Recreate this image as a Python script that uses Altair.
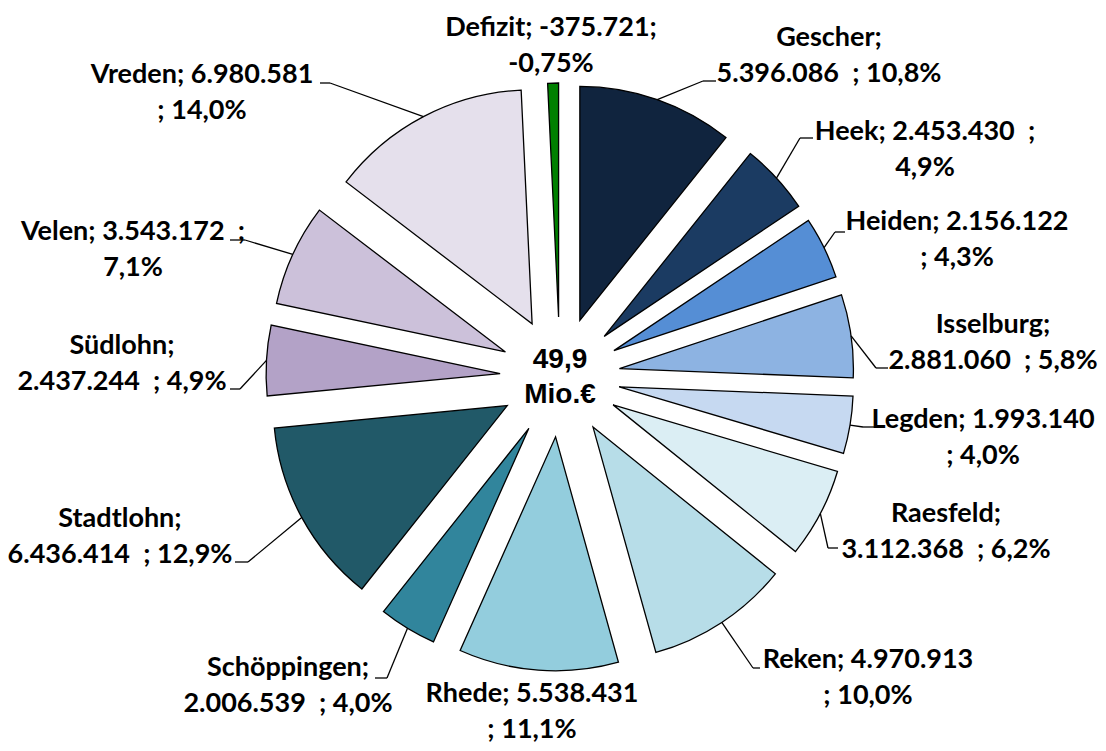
import altair as alt
import pandas as pd

# ---- data ----
names = ["Gescher", "Heek", "Heiden", "Isselburg", "Legden", "Raesfeld", "Reken",
         "Rhede", "Schöppingen", "Stadtlohn", "Südlohn", "Velen", "Vreden", "Defizit"]
values = [5396086, 2453430, 2156122, 2881060, 1993140, 3112368, 4970913,
          5538431, 2006539, 6436414, 2437244, 3543172, 6980581, -375721]
colors = ["#10243E", "#1B3B62", "#558ED5", "#8DB3E2", "#C6D9F1", "#DBEEF4", "#B7DDE8",
          "#93CDDD", "#31859C", "#215968", "#B3A2C7", "#CCC1DA", "#E5E0EC", "#008000"]
# how Excel wrapped each label: A "name;\nvalue ; pct", B "name; value ;\npct",
# C "name; value\n; pct", D "name; value;\npct"
wraps = ["A", "B", "C", "A", "C", "A", "C", "C", "A", "A", "A", "B", "C", "D"]

# ---- layout (pixels inside the chart, page minus 8px margin) ----
CX, CY = 552, 369        # pie centre
R, EXP = 234, 60         # slice radius, explosion distance
label_x = [821, 917, 949, 985, 975, 938, 860, 524, 280, 112, 114, 125, 194, 543]
label_y = [48, 142, 232, 335, 430, 524, 670, 704, 678, 529, 356, 242, 85, 38]
knee_x = [695, 792, 827, 868, 855, 820, 745, None, 379, 240, 232, 237, 322, None]
knee_y = [73, 130, 224, 360, 419, 540, 660, None, 670, 554, 381, 232, 75, None]
end_x = [708, 805, 837, 880, 867, 830, 752, None, 367, 227, 222, 222, 312, None]
LINE_GAP = 36

W, H = 1090, 735
NB = "\u00a0"  # keeps Excel's double space from collapsing


def de_int(v):
    return f"{v:,}".replace(",", ".")


pos_total = sum(v for v in values if v > 0)
line1, line2 = [], []
for n, v, w in zip(names, values, wraps):
    p = v / pos_total * 100
    ps = (f"{p:.2f}" if abs(p) < 1 else f"{p:.1f}").replace(".", ",") + "%"
    vs = de_int(v)
    if w == "A":
        a, b = f"{n};", f"{vs}{NB} ; {ps}"
    elif w == "B":
        a, b = f"{n}; {vs}{NB} ;", ps
    elif w == "C":
        a, b = f"{n}; {vs}", f"; {ps}"
    else:
        a, b = f"{n}; {vs};", ps
    line1.append(a)
    line2.append(b)

df = pd.DataFrame({
    "idx": list(range(len(names))),
    "name": names,
    "value": values,
    "line1": line1, "line2": line2,
    "lx": label_x, "ly": label_y,
    "kx": knee_x, "ky": knee_y, "ex": end_x,
})

center_lines = [f"{pos_total / 1e6:.1f}".replace(".", ","), "Mio.€"]

base = (
    alt.Chart(df)
    .transform_calculate(absval="abs(datum.value)")
    .transform_joinaggregate(total="sum(absval)")
    .transform_window(cum="sum(absval)", sort=[alt.SortField("idx")], frame=[None, 0])
    .transform_calculate(a1="datum.cum / datum.total * 2 * PI")
    .transform_calculate(a0="(datum.cum - datum.absval) / datum.total * 2 * PI")
    .transform_calculate(mid="(datum.a0 + datum.a1) / 2")
    .transform_calculate(cx=f"{CX} + {EXP} * sin(datum.mid)")
    .transform_calculate(cy=f"{CY} - {EXP} * cos(datum.mid)")
    .transform_calculate(sx=f"{CX} + {EXP + R} * sin(datum.mid)")
    .transform_calculate(sy=f"{CY} - {EXP + R} * cos(datum.mid)")
)

slices = base.mark_arc(radius=R, stroke="black", strokeWidth=1.3).encode(
    theta=alt.Theta("a0:Q", scale=None),
    theta2="a1:Q",
    x=alt.X("cx:Q", scale=None, axis=None),
    y=alt.Y("cy:Q", scale=None, axis=None),
    color=alt.Color("name:N", scale=alt.Scale(domain=names, range=colors), legend=None),
    order=alt.Order("idx:Q"),
)

lead = base.transform_filter("isValid(datum.kx)")
leader1 = lead.mark_rule(color="black", strokeWidth=1.3).encode(
    x=alt.X("sx:Q", scale=None), y=alt.Y("sy:Q", scale=None),
    x2="kx:Q", y2="ky:Q",
)
leader2 = lead.mark_rule(color="black", strokeWidth=1.3).encode(
    x=alt.X("kx:Q", scale=None), y=alt.Y("ky:Q", scale=None),
    x2="ex:Q", y2="ky:Q",
)

txt_style = dict(font="Lato", fontWeight="bold", fontSize=27,
                 align="center", baseline="middle", color="black")
text1 = base.mark_text(dy=-LINE_GAP / 2, **txt_style).encode(
    x=alt.X("lx:Q", scale=None), y=alt.Y("ly:Q", scale=None), text="line1:N",
)
text2 = base.mark_text(dy=LINE_GAP / 2, **txt_style).encode(
    x=alt.X("lx:Q", scale=None), y=alt.Y("ly:Q", scale=None), text="line2:N",
)

c_style = dict(font="Liberation Sans", fontWeight="bold", fontSize=28,
               align="center", baseline="middle", color="black")
center1 = alt.Chart(pd.DataFrame({"t": [center_lines[0]]})).mark_text(
    dy=-17, **c_style).encode(x=alt.value(CX), y=alt.value(CY), text="t:N")
center2 = alt.Chart(pd.DataFrame({"t": [center_lines[1]]})).mark_text(
    dy=18, **c_style).encode(x=alt.value(CX), y=alt.value(CY), text="t:N")

chart = (
    alt.layer(slices, leader1, leader2, text1, text2, center1, center2)
    .properties(width=W, height=H, autosize=alt.AutoSizeParams(type="none"), padding=0)
    .configure_view(stroke=None)
)

chart.save("out.html", embed_options={"renderer": "svg", "actions": False})
